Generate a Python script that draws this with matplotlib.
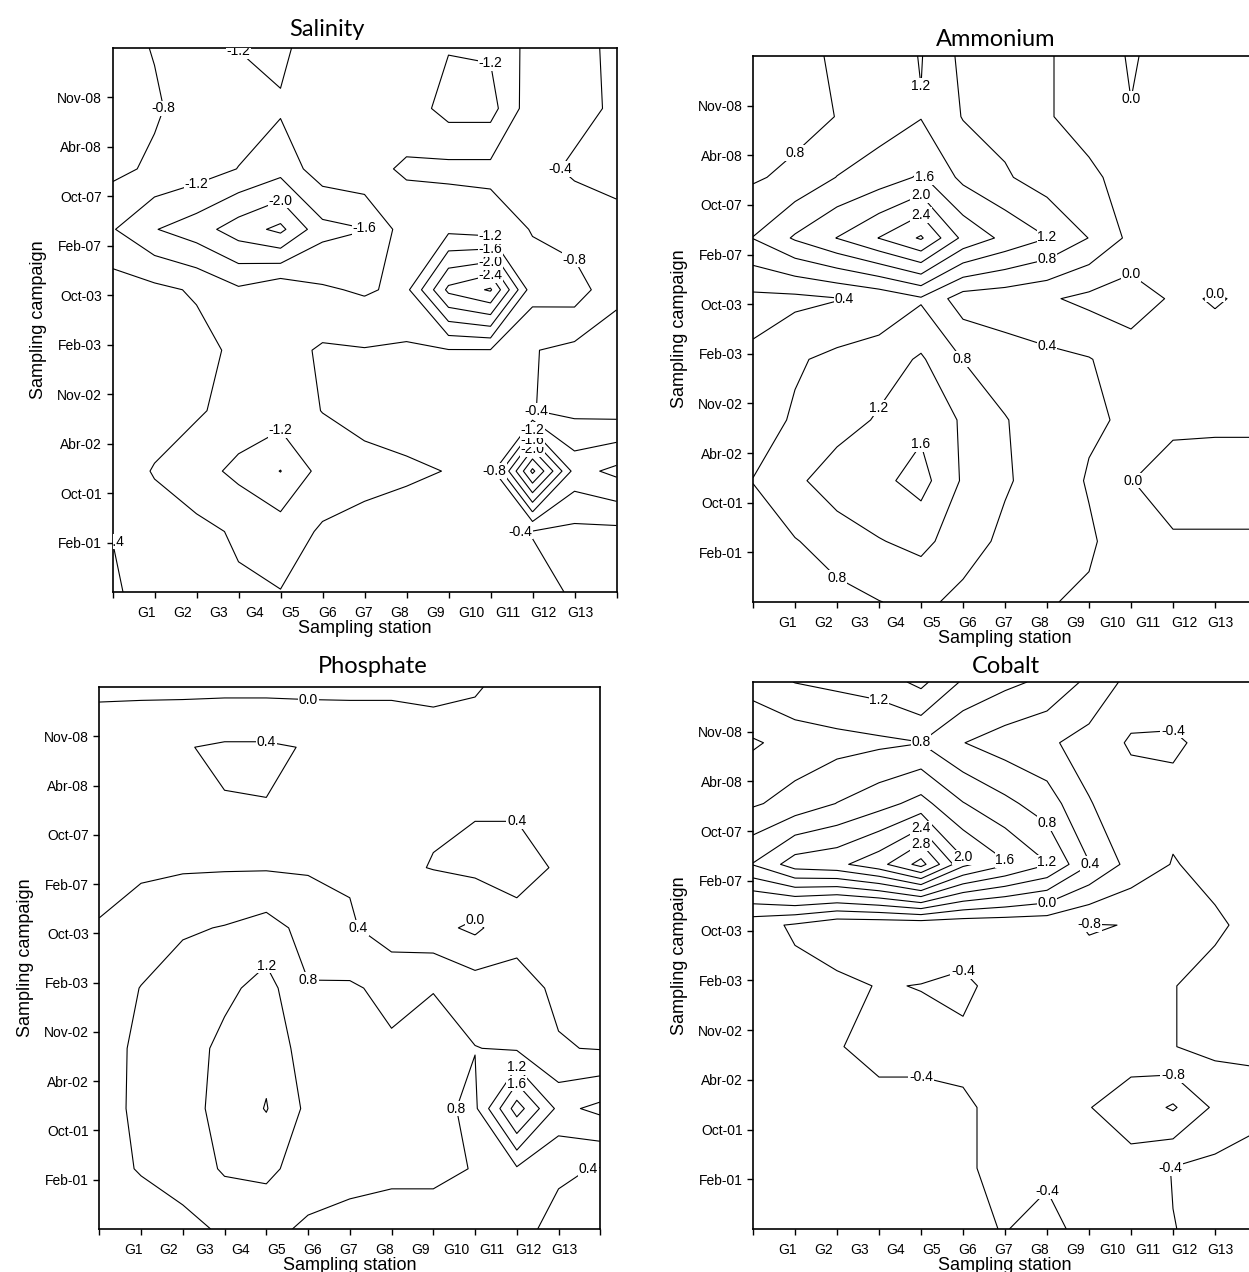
import numpy as np
import matplotlib
matplotlib.use("Agg")
from matplotlib import pyplot as plt

plt.rcParams.update({
    "font.family": "Liberation Sans",
    "axes.linewidth": 1.2,
    "xtick.direction": "out",
    "ytick.direction": "out",
    "xtick.major.size": 4,
    "ytick.major.size": 4,
    "xtick.major.width": 1.0,
    "ytick.major.width": 1.0,
    "xtick.labelsize": 10,
    "ytick.labelsize": 10,
    "axes.labelsize": 13,
    "contour.negative_linestyle": "solid",
})

stations = [f"G{i}" for i in range(1, 14)]
campaigns = ["Feb-01", "Oct-01", "Abr-02", "Nov-02", "Feb-03",
             "Oct-03", "Feb-07", "Oct-07", "Abr-08", "Nov-08"]

# gridded values, rows listed from the top of the plot down
salinity = [
    [-0.66, -0.82, -1.0, -1.21, -1.3, -0.92, -0.95, -1.0, -1.18, -1.15, -0.65, -0.52, -0.32],
    [-0.65, -0.75, -0.98, -1.0, -1.15, -1.0, -0.95, -0.98, -1.35, -1.35, -0.55, -0.5, -0.35],
    [-0.7, -0.87, -1.0, -1.21, -1.45, -0.99, -0.9, -0.755, -0.7, -0.7, -0.5, -0.35, -0.3],
    [-1.17, -1.58, -1.815, -2.2, -2.5, -1.72, -1.61, -1.0, -1.1, -1.0, -0.78, -0.6, -0.5],
    [-0.6, -0.7, -0.85, -1.14, -0.9, -1.15, -1.25, -1.1, -2.5, -2.85, -0.95, -1.0, -0.5],
    [-0.6, -0.6, -0.65, -0.9, -0.95, -0.75, -0.78, -0.75, -0.78, -0.78, -0.42, -0.3, -0.2],
    [-0.6, -0.6, -0.75, -0.95, -1.0, -0.79, -0.7, -0.65, -0.6, -0.55, -0.41, -0.3, -0.25],
    [-0.55, -0.83, -1.04, -1.3, -1.61, -1.05, -0.9, -0.85, -0.79, -0.6, -2.9, -1.05, -1.3],
    [-0.42, -0.6, -0.7, -0.85, -1.0, -0.75, -0.7, -0.65, -0.6, -0.45, -0.38, -0.3, -0.3],
    [-0.3, -0.7, -0.7, -0.75, -0.79, -0.7, -0.6, -0.6, -0.6, -0.6, -0.55, -0.35, -0.3],
]

ammonium = [
    [0.6, 0.7, 0.845, 0.97, 1.22, 0.7, 0.6, 0.42, 0.3, -0.05, 0.21, 0.25, 0.25],
    [0.55, 0.65, 0.81, 1.0, 1.18, 0.78, 0.65, 0.42, 0.3, 0.02, 0.2, 0.25, 0.25],
    [0.75, 0.9, 1.21, 1.4, 1.65, 1.1, 0.85, 0.6, 0.45, 0.3, 0.25, 0.25, 0.25],
    [1.21, 1.65, 2.01, 2.41, 2.85, 1.9, 1.5, 1.21, 0.79, 0.3, 0.25, 0.25, 0.25],
    [0.3, 0.3, 0.38, 0.5, 0.75, 0.2, 0.15, 0.05, -0.1, -0.2, 0.05, -0.02, 0.05],
    [0.45, 0.75, 0.9, 1.0, 1.25, 0.79, 0.6, 0.5, 0.42, 0.2, 0.1, 0.1, 0.1],
    [0.6, 0.85, 1.0, 1.25, 1.5, 1.15, 0.82, 0.6, 0.45, 0.35, 0.1, 0.08, 0.08],
    [0.81, 1.1, 1.45, 1.5, 1.75, 1.15, 0.85, 0.6, 0.37, 0.01, -0.2, -0.2, -0.2],
    [0.6, 0.78, 0.95, 1.18, 1.3, 1.0, 0.7, 0.55, 0.45, 0.2, 0.05, 0.05, 0.05],
    [0.5, 0.6, 0.7, 0.79, 0.9, 0.68, 0.55, 0.42, 0.35, 0.3, 0.25, 0.2, 0.2],
]

phosphate = [
    [-0.1, -0.1, -0.1, -0.1, -0.1, -0.1, -0.1, -0.1, -0.15, -0.05, 0.2, 0.25, 0.25],
    [0.3, 0.35, 0.38, 0.45, 0.45, 0.38, 0.35, 0.35, 0.3, 0.25, 0.3, 0.3, 0.3],
    [0.3, 0.32, 0.35, 0.38, 0.39, 0.35, 0.32, 0.3, 0.37, 0.37, 0.37, 0.3, 0.3],
    [0.3, 0.33, 0.36, 0.37, 0.37, 0.36, 0.35, 0.35, 0.41, 0.5, 0.5, 0.37, 0.32],
    [0.42, 0.6, 0.75, 0.82, 0.95, 0.67, 0.45, 0.2, 0.12, -0.08, 0.3, 0.3, 0.3],
    [0.6, 0.81, 1.0, 1.1, 1.35, 0.82, 0.85, 0.7, 0.79, 0.6, 0.5, 0.35, 0.3],
    [0.7, 0.85, 1.0, 1.31, 1.5, 0.99, 0.9, 0.85, 0.9, 0.81, 0.75, 0.42, 0.38],
    [0.72, 0.845, 1.05, 1.33, 1.62, 1.11, 0.95, 0.9, 0.9, 0.72, 2.2, 1.09, 1.3],
    [0.7, 0.82, 0.95, 1.25, 1.3, 1.0, 0.9, 0.85, 0.85, 0.79, 0.75, 0.45, 0.38],
    [0.6, 0.65, 0.7, 0.85, 0.9, 0.74, 0.7, 0.7, 0.7, 0.7, 0.5, 0.3, 0.3],
]

cobalt = [
    [1.0, 1.21, 1.3, 1.4, 1.7, 1.15, 0.9, 0.71, 0.31, -0.13, -0.2, -0.25, -0.25],
    [0.35, 0.55, 0.65, 0.72, 0.79, 0.41, 0.2, 0.06, -0.14, -0.45, -0.45, -0.3, -0.3],
    [0.75, 0.95, 1.21, 1.45, 1.74, 1.22, 0.9, 0.6, 0.02, -0.2, -0.3, -0.3, -0.3],
    [1.62, 2.2, 2.3, 2.66, 3.35, 2.1, 1.65, 1.22, 0.42, -0.15, -0.42, -0.3, -0.3],
    [-0.26, -0.45, -0.7, -0.7, -0.7, -0.7, -0.7, -0.7, -0.82, -0.79, -0.6, -0.45, -0.3],
    [-0.2, -0.3, -0.3, -0.42, -0.39, -0.3, -0.59, -0.6, -0.7, -0.7, -0.41, -0.3, -0.3],
    [-0.2, -0.3, -0.38, -0.5, -0.5, -0.5, -0.55, -0.6, -0.65, -0.65, -0.41, -0.3, -0.35],
    [-0.2, -0.25, -0.3, -0.3, -0.3, -0.35, -0.5, -0.6, -0.79, -0.95, -1.25, -0.73, -0.5],
    [-0.2, -0.2, -0.25, -0.3, -0.3, -0.35, -0.5, -0.5, -0.55, -0.7, -0.38, -0.3, -0.25],
    [-0.2, -0.2, -0.2, -0.25, -0.3, -0.3, -0.42, -0.23, -0.6, -0.6, -0.41, -0.3, -0.3],
]

x_grid = np.arange(13)
y_grid = np.linspace(0, 11, 10)
levels = np.round(np.arange(-3.2, 3.61, 0.4), 1) + 0.0
label_pos = np.linspace(0.81, 11.13, 13)

W, H = 1249, 1272
fig = plt.figure(figsize=(W / 100, H / 100), dpi=100)


def add_panel(rect, title, title_xy, z):
    l, t, w, h = rect
    ax = fig.add_axes([l / W, 1 - (t + h) / H, w / W, h / H])
    zz = np.array(z)[::-1]
    cs = ax.contour(x_grid, y_grid, zz, levels=levels, colors="black", linewidths=0.8)
    labels = ax.clabel(cs, fmt=lambda v: f"{v + 0.0:.1f}", fontsize=10, inline=False)
    for txt in labels:
        txt.set_rotation(0)
        txt.set_bbox(dict(facecolor="white", edgecolor="none", pad=0.6))
    ax.set_xlim(0, 12)
    ax.set_ylim(0, 11)
    ax.set_xticks(np.arange(13))
    ax.set_xticklabels([])
    ax.set_xticks(label_pos, stations, minor=True)
    ax.tick_params(axis="x", which="minor", length=0, pad=10)
    ax.set_yticks(np.arange(1, 11), campaigns)
    ax.set_xlabel("Sampling station", labelpad=0)
    ax.set_ylabel("Sampling campaign", labelpad=7)
    fig.text(title_xy[0] / W, 1 - title_xy[1] / H, title, ha="center", va="baseline",
             fontsize=17, family="Lato")
    return ax


add_panel((112.5, 48, 504, 544), "Salinity", (327, 36), salinity)
add_panel((753, 56, 504, 546), "Ammonium", (996, 46), ammonium)
add_panel((99.3, 687, 501, 542), "Phosphate", (373, 673), phosphate)
add_panel((753, 682, 504, 547), "Cobalt", (1006, 673), cobalt)

fig.savefig("out.png", dpi=100)
